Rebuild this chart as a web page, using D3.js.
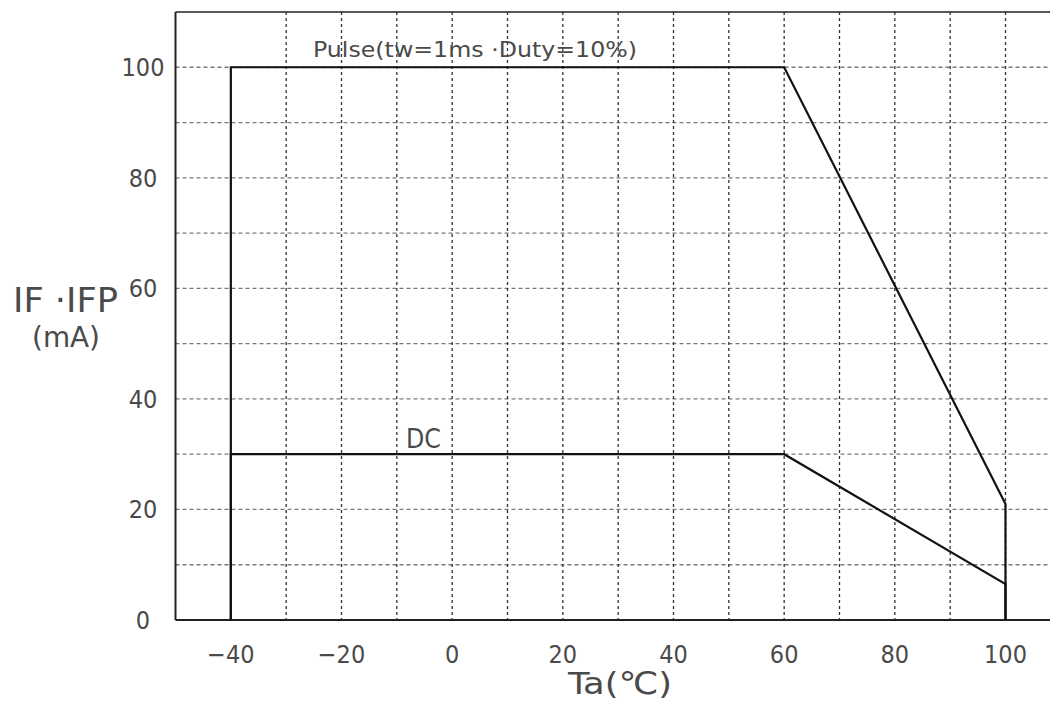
<!DOCTYPE html>
<html>
<head>
<meta charset="utf-8">
<script src="https://cdn.jsdelivr.net/npm/d3@7"></script>
<style>
  html, body { margin: 0; padding: 0; background: #fff; }
  svg { display: block; }
  text { font-family: "DejaVu Sans Condensed", "DejaVu Sans", sans-serif; fill: #4a4a4a; }
</style>
</head>
<body>
<svg id="chart" width="1050" height="702"></svg>
<script>
// ---- data ----
const pulseTemp    = [-40, -40, 60, 100, 100];
const pulseCurrent = [0, 100, 100, 21, 0];
const dcTemp       = [-40, -40, 60, 100, 100];
const dcCurrent    = [0, 30, 30, 6.5, 0];
const xTickValues  = [-40, -20, 0, 20, 40, 60, 80, 100];
const yTickValues  = [0, 20, 40, 60, 80, 100];
const xGridValues  = [-30, -20, -10, 0, 10, 20, 30, 40, 50, 60, 70, 80, 90, 100];
const yGridValues  = [10, 20, 30, 40, 50, 60, 70, 80, 90, 100];
const pulseLabel = "Pulse(tw=1ms ·Duty=10%)";
const dcLabel = "DC";
const yLabel1 = "IF ·IFP";
const yLabel2 = "(mA)";
const xLabel = "Ta(℃)";

const svg = d3.select("#chart");
const x = d3.scaleLinear().domain([-50, 100]).range([175.5, 1005.5]);
const y = d3.scaleLinear().domain([0, 110]).range([620, 12]);
const xRight = 1050;

// grid
svg.append("g").selectAll("line").data(yGridValues).join("line")
  .attr("x1", x(-50)).attr("x2", xRight)
  .attr("y1", d => y(d)).attr("y2", d => y(d))
  .attr("stroke", "#7a7a7a").attr("stroke-width", 1.3).attr("stroke-dasharray", "4,3");
svg.append("g").selectAll("line").data(xGridValues).join("line")
  .attr("x1", d => x(d)).attr("x2", d => x(d))
  .attr("y1", y(110)).attr("y2", y(0))
  .attr("stroke", "#333").attr("stroke-width", 1.3).attr("stroke-dasharray", "3,3");

// frame: top, left, bottom
svg.append("line").attr("x1", x(-50)).attr("x2", xRight).attr("y1", y(110)).attr("y2", y(110))
  .attr("stroke", "#222").attr("stroke-width", 1.6);
svg.append("line").attr("x1", x(-50)).attr("x2", x(-50)).attr("y1", y(110)).attr("y2", y(0))
  .attr("stroke", "#222").attr("stroke-width", 2);
svg.append("line").attr("x1", x(-50)).attr("x2", xRight).attr("y1", y(0)).attr("y2", y(0))
  .attr("stroke", "#222").attr("stroke-width", 2);

// curves
const line = d3.line().x(d => x(d[0])).y(d => y(d[1]));
svg.append("path").datum(d3.zip(pulseTemp, pulseCurrent)).attr("d", line)
  .attr("fill", "none").attr("stroke", "#111").attr("stroke-width", 2.2).attr("stroke-linejoin", "miter");
svg.append("path").datum(d3.zip(dcTemp, dcCurrent)).attr("d", line)
  .attr("fill", "none").attr("stroke", "#111").attr("stroke-width", 2.2);

// tick labels
const fmt = d3.format("d");
svg.append("g").selectAll("text").data(xTickValues).join("text")
  .attr("x", d => x(d)).attr("y", 663)
  .attr("text-anchor", "middle").attr("font-size", 25)
  .text(d => fmt(d));
svg.append("g").selectAll("text").data(yTickValues).join("text")
  .attr("x", 143).attr("y", d => y(d) + 9)
  .attr("text-anchor", "middle").attr("font-size", 25)
  .text(d => fmt(d));

// curve labels
svg.append("text").attr("x", 313).attr("y", 57).attr("font-size", 21)
  .attr("textLength", 324).attr("lengthAdjust", "spacingAndGlyphs").text(pulseLabel);
svg.append("text").attr("x", 406).attr("y", 448).attr("font-size", 26)
  .attr("textLength", 35).attr("lengthAdjust", "spacingAndGlyphs").text(dcLabel);

// axis titles
svg.append("text").attr("x", 13).attr("y", 312).attr("font-size", 34)
  .attr("textLength", 105).attr("lengthAdjust", "spacingAndGlyphs").text(yLabel1);
svg.append("text").attr("x", 32).attr("y", 347).attr("font-size", 28)
  .attr("textLength", 68).attr("lengthAdjust", "spacingAndGlyphs").text(yLabel2);
svg.append("text").attr("x", 568).attr("y", 694).attr("font-size", 31)
  .attr("textLength", 104).attr("lengthAdjust", "spacingAndGlyphs").text(xLabel);
</script>
</body>
</html>
